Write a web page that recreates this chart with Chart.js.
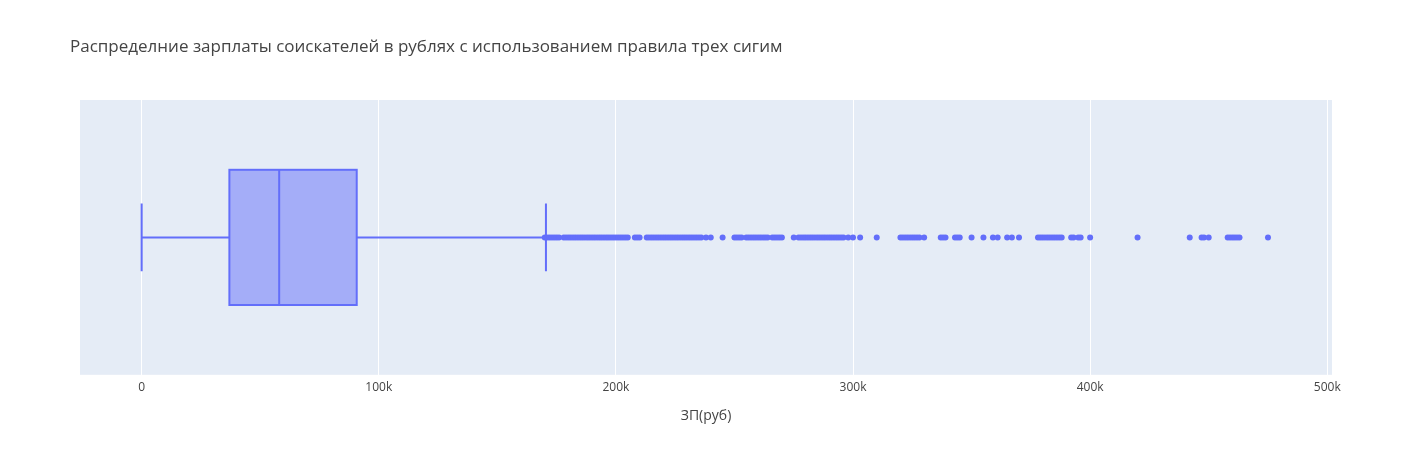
<!DOCTYPE html>
<html>
<head>
<meta charset="utf-8">
<script src="https://cdn.jsdelivr.net/npm/chart.js@4.4.0/dist/chart.umd.min.js"></script>
<style>
  body { margin: 0; background: #fff; font-family: "Open Sans", sans-serif; }
  #wrap { position: relative; width: 1412px; height: 450px; }
  #title { position: absolute; left: 70px; top: 34px; font-size: 17px; color: #444; }
</style>
</head>
<body>
<div id="wrap">
  <div id="title">Распределние зарплаты соискателей в рублях с использованием правила трех сигим</div>
  <canvas id="c" width="1412" height="450"></canvas>
</div>
<script>
'use strict';

// salary in thousands of rubles
const boxStats = { min: 0, q1: 37, median: 58, q3: 90.7, upperFence: 170.5 };
const outliers = [
  170, 171, 172, 173, 174, 175, 176,
  178, 179, 180, 181, 182, 183, 184, 185, 186, 187, 188, 189, 190, 191, 192, 193, 194, 195,
  196, 197, 198, 199, 200, 201, 202, 203, 204, 205, 208, 209, 210,
  213, 214, 215, 216, 217, 218, 219, 220, 221, 222, 223, 224, 225, 226, 227, 228, 229, 230,
  231, 232, 233, 234, 235, 236, 238, 240, 245,
  250, 251, 252, 253, 255, 256, 257, 258, 259, 260, 261, 262, 263, 264, 266, 267, 268, 269, 270,
  275, 277, 278, 279, 280, 281, 282, 283, 284, 285, 286, 287, 288, 289, 290, 291, 292, 293,
  294, 295, 296, 298, 300, 303, 310,
  320, 321, 322, 323, 324, 325, 326, 327, 328, 330, 337, 338, 339, 343, 344, 345,
  350, 355, 359, 361, 365, 367, 370,
  378, 379, 380, 381, 382, 383, 384, 385, 386, 387, 388, 392, 393, 395, 396, 400,
  420, 442, 447, 448, 450, 458, 459, 460, 461, 462, 463, 475
];
const xTicks = [0, 100, 200, 300, 400, 500];

const boxColor = '#636efa';
const boxFill = 'rgba(99,110,250,0.5)';

const bgPlugin = {
  id: 'bg',
  beforeDraw(chart) {
    const a = chart.chartArea, ctx = chart.ctx;
    ctx.save();
    ctx.fillStyle = '#E5ECF6';
    ctx.fillRect(a.left, a.top, a.right - a.left, a.bottom - a.top);
    ctx.restore();
  }
};

const boxPlugin = {
  id: 'box',
  afterDatasetsDraw(chart) {
    const x = chart.scales.x, y = chart.scales.y, ctx = chart.ctx;
    const yc = y.getPixelForValue(0.5);
    const bh = y.getPixelForValue(0.5) - y.getPixelForValue(0.746);
    const wh = bh / 2;
    const px = v => x.getPixelForValue(v);
    ctx.save();
    ctx.strokeStyle = boxColor;
    ctx.lineWidth = 2;
    // whiskers
    ctx.beginPath();
    ctx.moveTo(px(boxStats.min), yc); ctx.lineTo(px(boxStats.q1), yc);
    ctx.moveTo(px(boxStats.q3), yc); ctx.lineTo(px(boxStats.upperFence), yc);
    ctx.moveTo(px(boxStats.min), yc - wh); ctx.lineTo(px(boxStats.min), yc + wh);
    ctx.moveTo(px(boxStats.upperFence), yc - wh); ctx.lineTo(px(boxStats.upperFence), yc + wh);
    ctx.stroke();
    // box
    ctx.fillStyle = boxFill;
    const l = px(boxStats.q1), r = px(boxStats.q3);
    ctx.fillRect(l, yc - bh, r - l, bh * 2);
    ctx.strokeRect(l, yc - bh, r - l, bh * 2);
    ctx.beginPath();
    ctx.moveTo(px(boxStats.median), yc - bh); ctx.lineTo(px(boxStats.median), yc + bh);
    ctx.stroke();
    ctx.restore();
  }
};

new Chart(document.getElementById('c'), {
  type: 'scatter',
  data: {
    datasets: [{
      data: outliers.map(v => ({ x: v, y: 0.5 })),
      backgroundColor: boxColor,
      borderWidth: 0,
      pointRadius: 3,
      pointHoverRadius: 3
    }]
  },
  options: {
    responsive: false,
    animation: false,
    layout: { padding: { left: 80, right: 80, top: 100, bottom: 22 } },
    plugins: { legend: { display: false }, tooltip: { enabled: false } },
    scales: {
      x: {
        min: -26, max: 502,
        afterBuildTicks(s) { s.ticks = xTicks.map(v => ({ value: v })); },
        grid: { color: '#fff', lineWidth: 1, drawTicks: false },
        border: { display: false },
        ticks: {
          padding: 6,
          color: '#444',
          font: { family: 'Open Sans', size: 12 },
          callback: v => v === 0 ? '0' : v + 'k'
        },
        title: {
          display: true, text: 'ЗП(руб)', color: '#444',
          font: { family: 'Open Sans', size: 14 }, padding: { top: 6 }
        }
      },
      y: { display: false, min: 0, max: 1 }
    }
  },
  plugins: [bgPlugin, boxPlugin]
});
</script>
</body>
</html>
